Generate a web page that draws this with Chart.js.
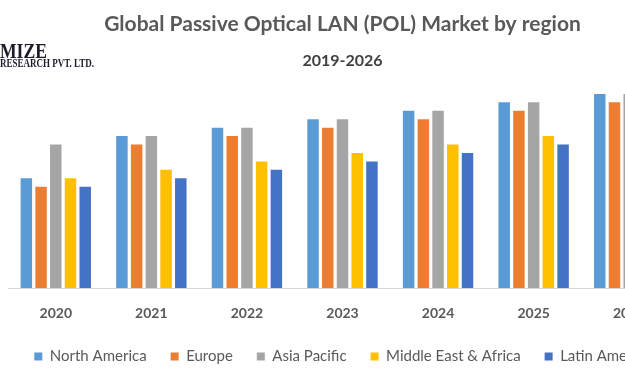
<!DOCTYPE html>
<html>
<head>
<meta charset="utf-8">
<script src="https://cdn.jsdelivr.net/npm/chart.js@4/dist/chart.umd.min.js"></script>
<style>
  html, body { margin: 0; padding: 0; background: #fff; width: 625px; height: 375px; overflow: hidden; }
  #wrap { position: absolute; left: 0; top: 0; width: 680px; height: 375px; }
  .logo1 { position: absolute; left: 0; top: 38px; font: bold 22px "Liberation Serif", serif; color: #1b1b2a; transform: scaleX(0.8); transform-origin: left top; }
  .logo2 { position: absolute; left: 0; top: 56px; font: bold 12px "Liberation Serif", serif; color: #1b1b2a; transform: scaleX(0.75); transform-origin: left top; }
</style>
</head>
<body>
<div id="wrap"><canvas id="myChart" width="680" height="375"></canvas></div>
<div class="logo1">MIZE</div>
<div class="logo2">RESEARCH PVT. LTD.</div>
<script>
let labels = ["2020", "2021", "2022", "2023", "2024", "2025", "2026"];
let seriesNames = ["North America", "Europe", "Asia Pacific", "Middle East & Africa", "Latin America"];
let northAmerica = [13, 18, 19, 20, 21, 22, 23];
let europe = [12, 17, 18, 19, 20, 21, 22];
let asiaPacific = [17, 18, 19, 20, 21, 22, 23];
let middleEastAfrica = [13, 14, 15, 16, 17, 18, 19];
let latinAmerica = [12, 13, 14, 15, 16, 17, 18];
let colors = ["#5B9BD5", "#ED7D31", "#A5A5A5", "#FFC000", "#4472C4"];

let seriesData = [northAmerica, europe, asiaPacific, middleEastAfrica, latinAmerica];

new Chart(document.getElementById('myChart'), {
    type: "bar",
    data: {
        labels: labels,
        datasets: seriesData.map((d, i) => ({
            label: seriesNames[i],
            backgroundColor: colors[i],
            data: d,
            categoryPercentage: 0.77,
            barPercentage: 0.78
        }))
    },
    options: {
        responsive: false,
        animation: false,
        layout: { padding: { left: 8, right: 3, top: 0, bottom: 1 } },
        plugins: {
            title: {
                display: true,
                text: "Global Passive Optical LAN (POL) Market by region",
                color: "#595959",
                font: { family: "Lato", size: 21, weight: "bold" },
                padding: { top: 12, bottom: 0 }
            },
            subtitle: {
                display: true,
                text: "2019-2026",
                color: "#404040",
                font: { family: "Lato", size: 16, weight: "bold" },
                padding: { top: 14, bottom: 10 }
            },
            legend: {
                position: "bottom",
                labels: {
                    boxWidth: 8,
                    boxHeight: 8,
                    padding: 24,
                    color: "#595959",
                    font: { family: "Lato", size: 15 }
                }
            },
            tooltip: { enabled: false }
        },
        scales: {
            x: {
                grid: { display: false, drawTicks: false },
                border: { display: true, color: "#d9d9d9" },
                ticks: {
                    color: "#595959",
                    padding: 17,
                    font: { family: "Lato", size: 14, weight: "bold" }
                },
                afterFit: (scale) => { scale.height = 37; }
            },
            y: {
                display: false,
                min: 0,
                max: 24.6
            }
        }
    }
});
</script>
</body>
</html>
